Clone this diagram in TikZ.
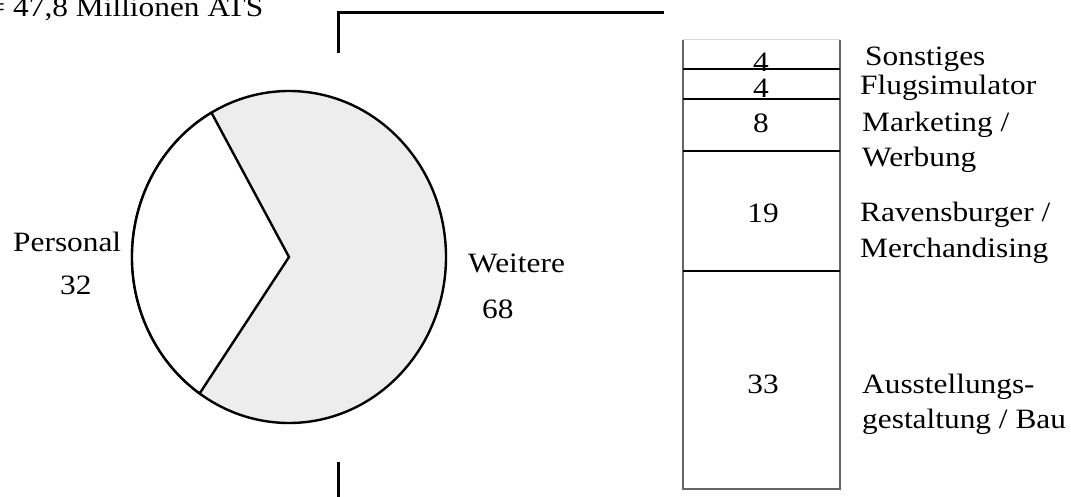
\documentclass[tikz,border=0pt]{standalone}
\usepackage{fontspec}
\setmainfont[FakeStretch=1.12]{Liberation Serif}
\definecolor{piegray}{HTML}{EDEDED}
\definecolor{edgegray}{HTML}{666666}
\definecolor{topgray}{HTML}{D8D8D8}
\tikzset{
  lbl/.style={anchor=base west, inner sep=0pt, font=\fontsize{28}{32}\selectfont},
  num/.style={anchor=base, inner sep=0pt, font=\fontsize{28}{32}\selectfont},
  bracket/.style={line width=3pt},
  divider/.style={line width=1.4pt, black},
  pieline/.style={line width=2.4pt, line join=miter},
}
\begin{document}
\begin{tikzpicture}[x=1pt,y=1pt]
\useasboundingbox (0,0) rectangle (1071,496);
% title
\node[lbl] (title) at (-12.5,479) {= 47,8 Millionen ATS};
% bracket lines
\coordinate (b1) at (664,483);
\coordinate (b2) at (338,483);
\coordinate (b3) at (338,443);
\draw[bracket] (b1) -- (b2) -- (b3);
\coordinate (b4) at (338,34);
\coordinate (b5) at (338,-2);
\draw[bracket] (b4) -- (b5);
% pie
\coordinate (c) at (289,239);
\draw[pieline, fill=piegray] (c) ellipse [x radius=157, y radius=166];
\draw[pieline, fill=white] (c) -- ++(119.6:157 and 166)
  arc[start angle=119.6, end angle=235.3, x radius=157, y radius=166] -- cycle;
\node[lbl] (pers) at (13,244) {Personal};
\node[lbl] (persn) at (60,202) {32};
\node[lbl] (weit) at (468,223) {Weitere};
\node[lbl] (weitn) at (482,178) {68};
% bar
\fill[white] (683,7) rectangle (840,456);
\draw[topgray, line width=1pt] (683,456) -- (840,456);
\draw[edgegray, line width=1.2pt] (683,456) -- (683,7) -- (840,7) -- (840,456);
\draw[divider] (683,427) -- (840,427);
\draw[divider] (683,397) -- (840,397);
\draw[divider] (683,345) -- (840,345);
\draw[divider] (683,225) -- (840,225);
\node[num] (n1) at (761,424) {4};
\node[num] (n2) at (761,398) {4};
\node[num] (n3) at (761,363) {8};
\node[num] (n4) at (763,273) {19};
\node[num] (n5) at (763,103) {33};
% labels
\node[lbl] (l1) at (865,430) {Sonstiges};
\node[lbl] (l2) at (860,401) {Flugsimulator};
\node[lbl] (l3) at (862,364) {Marketing /};
\node[lbl] (l3b) at (862,329) {Werbung};
\node[lbl] (l4) at (860,274) {Ravensburger /};
\node[lbl] (l4b) at (860,238) {Merchandising};
\node[lbl] (l5) at (862,103) {Ausstellungs-};
\node[lbl] (l5b) at (862,68) {gestaltung / Bau};
\end{tikzpicture}
\end{document}
